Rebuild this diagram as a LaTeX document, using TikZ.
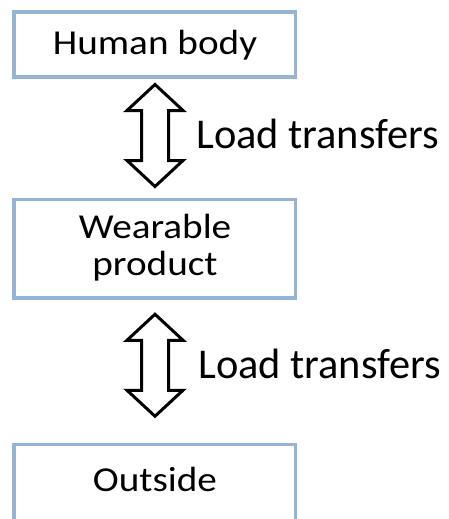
\documentclass[tikz,border=0pt]{standalone}
\usepackage{fontspec}
\setmainfont{Carlito}
\usetikzlibrary{calc}
\definecolor{boxblue}{RGB}{149,179,215}
\tikzset{
  box/.style={draw=boxblue, line width=3.5pt, minimum width=281.5pt, inner sep=0pt, fill=white},
  boxtext/.style={anchor=base, inner sep=0pt, font=\fontsize{35}{42}\selectfont},
  flowlabel/.style={anchor=base west, inner sep=0pt, font=\fontsize{42.4}{50}\selectfont},
  blockarrow/.style={draw=black, fill=white, line width=3pt, line join=miter},
  dblarrow/.pic={
    \path[blockarrow] (0,-51) -- (28,-25) -- (13.5,-25) -- (13.5,25) -- (28,25)
      -- (0,51) -- (-28,25) -- (-13.5,25) -- (-13.5,-25) -- (-28,-25) -- cycle;
  }
}
\begin{document}
\begin{tikzpicture}[x=1pt, y=-1pt]
  % page frame
  \fill[white] (0,0) rectangle (449,519);
  \useasboundingbox (0,0) rectangle (449,519);

  % the three stages
  \node[box, minimum height=65pt]   (body)    at (154.75,44.5)   {};
  \node[box, minimum height=98.5pt] (product) at (154.75,248.75) {};
  \node[box, minimum height=77.5pt] (outside) at (154.75,483.25) {};

  \node[boxtext] (bodytext)  at (155,54.3)  {\scalebox{1.12}[1]{Human body}};
  \node[boxtext] (prodtext1) at (155,238.3) {\scalebox{1.12}[1]{Wearable}};
  \node[boxtext] (prodtext2) at (155,275)   {\scalebox{1.12}[1]{product}};
  \node[boxtext] (outtext)   at (155,491.7) {\scalebox{1.12}[1]{Outside}};

  % two-way load paths between the stages
  \coordinate (upper) at (155,135.5);
  \coordinate (lower) at (155,365.25);
  \pic at (upper) {dblarrow};
  \pic at (lower) {dblarrow};

  \node[flowlabel] (upperlabel) at (196,148.3) {Load transfers};
  \node[flowlabel] (lowerlabel) at (198,378.3) {Load transfers};
\end{tikzpicture}
\end{document}
